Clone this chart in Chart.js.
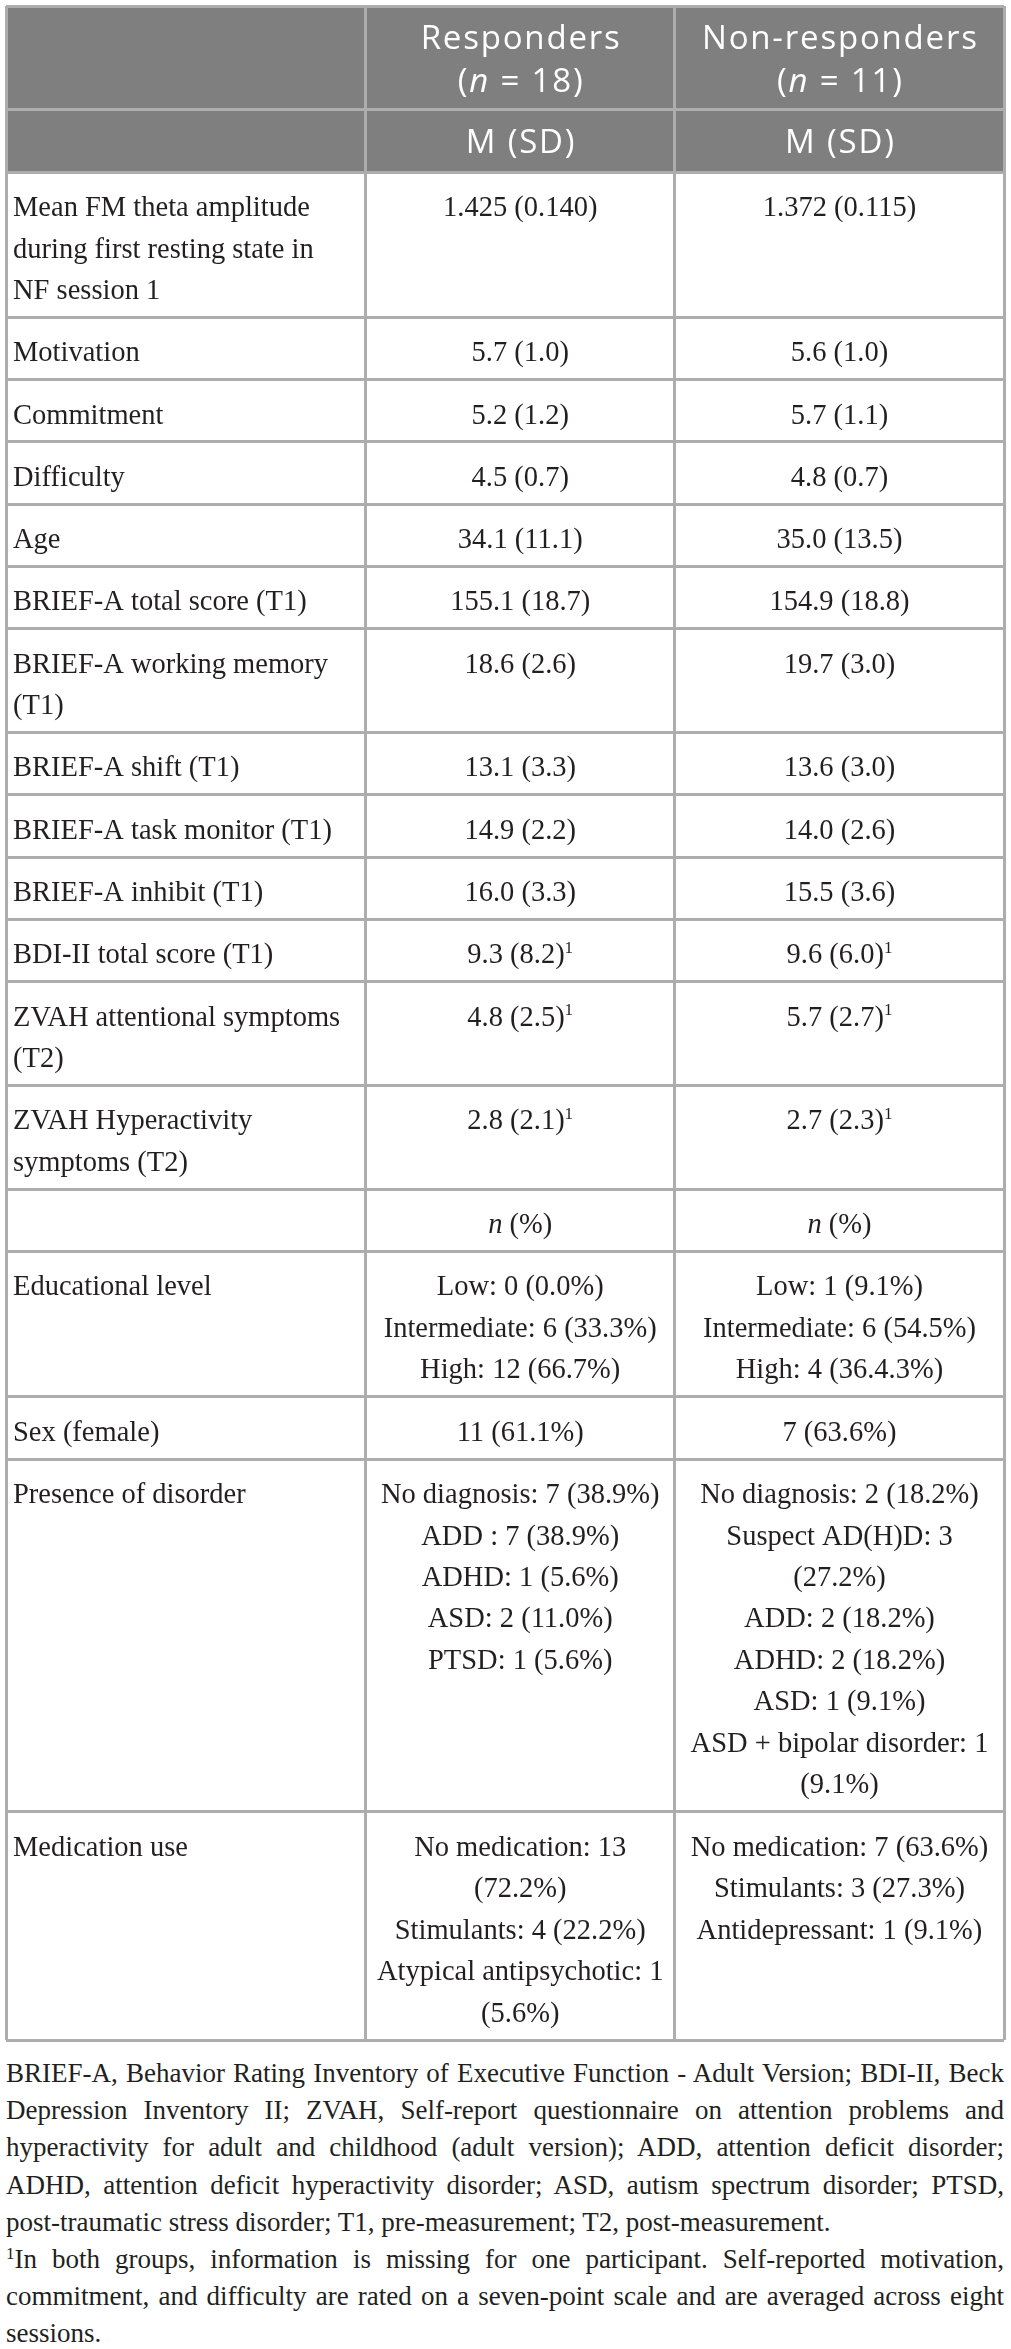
<!DOCTYPE html>
<html>
<head>
<meta charset="utf-8">
<script src="https://cdn.jsdelivr.net/npm/chart.js@4.4.1/dist/chart.umd.min.js"></script>
<style>
html,body{margin:0;padding:0;background:#ffffff;}
#wrap{position:relative;width:1011px;height:2349px;overflow:hidden;}
#tbl{position:absolute;left:0;top:0;}
#notes{position:absolute;left:6px;top:2055px;width:998px;font-family:"Liberation Serif","Times New Roman",serif;font-size:27px;line-height:37.2px;color:#231f20;}
#notes div{white-space:nowrap;}
#notes .j{text-align:justify;text-align-last:justify;}
#notes sup{font-size:17px;line-height:0;vertical-align:9px;}
</style>
</head>
<body>
<div id="wrap">
  <canvas id="tbl" width="1011" height="2046"></canvas>
  <div id="notes">
    <div class="j">BRIEF-A, Behavior Rating Inventory of Executive Function - Adult Version; BDI-II, Beck</div>
    <div class="j">Depression Inventory II; ZVAH, Self-report questionnaire on attention problems and</div>
    <div class="j">hyperactivity for adult and childhood (adult version); ADD, attention deficit disorder;</div>
    <div class="j">ADHD, attention deficit hyperactivity disorder; ASD, autism spectrum disorder; PTSD,</div>
    <div>post-traumatic stress disorder; T1, pre-measurement; T2, post-measurement.</div>
    <div class="j"><sup>1</sup>In both groups, information is missing for one participant. Self-reported motivation,</div>
    <div class="j">commitment, and difficulty are rated on a seven-point scale and are averaged across eight</div>
    <div>sessions.</div>
  </div>
</div>
<script>
// ---------------- DATA ----------------
const groupHeaders = ["Responders\n(*n* = 18)", "Non-responders\n(*n* = 11)"];
const statHeaders = ["M (SD)", "M (SD)"];
const rowLabels = [
  "Mean FM theta amplitude\nduring first resting state in\nNF session 1",
  "Motivation",
  "Commitment",
  "Difficulty",
  "Age",
  "BRIEF-A total score (T1)",
  "BRIEF-A working memory\n(T1)",
  "BRIEF-A shift (T1)",
  "BRIEF-A task monitor (T1)",
  "BRIEF-A inhibit (T1)",
  "BDI-II total score (T1)",
  "ZVAH attentional symptoms\n(T2)",
  "ZVAH Hyperactivity\nsymptoms (T2)",
  "",
  "Educational level",
  "Sex (female)",
  "Presence of disorder",
  "Medication use"
];
const responders = [
  "1.425 (0.140)",
  "5.7 (1.0)",
  "5.2 (1.2)",
  "4.5 (0.7)",
  "34.1 (11.1)",
  "155.1 (18.7)",
  "18.6 (2.6)",
  "13.1 (3.3)",
  "14.9 (2.2)",
  "16.0 (3.3)",
  "9.3 (8.2)^1",
  "4.8 (2.5)^1",
  "2.8 (2.1)^1",
  "*n* (%)",
  "Low: 0 (0.0%)\nIntermediate: 6 (33.3%)\nHigh: 12 (66.7%)",
  "11 (61.1%)",
  "No diagnosis: 7 (38.9%)\nADD : 7 (38.9%)\nADHD: 1 (5.6%)\nASD: 2 (11.0%)\nPTSD: 1 (5.6%)",
  "No medication: 13\n(72.2%)\nStimulants: 4 (22.2%)\nAtypical antipsychotic: 1\n(5.6%)"
];
const nonResponders = [
  "1.372 (0.115)",
  "5.6 (1.0)",
  "5.7 (1.1)",
  "4.8 (0.7)",
  "35.0 (13.5)",
  "154.9 (18.8)",
  "19.7 (3.0)",
  "13.6 (3.0)",
  "14.0 (2.6)",
  "15.5 (3.6)",
  "9.6 (6.0)^1",
  "5.7 (2.7)^1",
  "2.7 (2.3)^1",
  "*n* (%)",
  "Low: 1 (9.1%)\nIntermediate: 6 (54.5%)\nHigh: 4 (36.4.3%)",
  "7 (63.6%)",
  "No diagnosis: 2 (18.2%)\nSuspect AD(H)D: 3\n(27.2%)\nADD: 2 (18.2%)\nADHD: 2 (18.2%)\nASD: 1 (9.1%)\nASD + bipolar disorder: 1\n(9.1%)",
  "No medication: 7 (63.6%)\nStimulants: 3 (27.3%)\nAntidepressant: 1 (9.1%)"
];

// ---------------- LAYOUT / STYLE ----------------
const LINE = 41.5;      // height of one text line (y-scale units)
const PAD = 20.8;       // vertical cell padding total (units)
const PAD_TOP = 10.4;
const HEAD_LINE = 43;   // header text line spacing (units)
const colEdges = [0, 0.3602, 0.6703, 1];
const HEADER_BG = '#7f7f7f';
const GRID = '#adadad';
const BODY_FONT = '"Liberation Serif", "Times New Roman", serif';
const HEAD_FONT = '"Open Sans", "Noto Sans", sans-serif';
const BODY_SIZE = 28.5;
const HEAD_SIZE = 33;
const HEAD_SPACING = 1.8;
const TEXT_COLOR = '#231f20';

// build rows from the data arrays
const rows = [];
rows.push({cells: ["", groupHeaders[0], groupHeaders[1]], header: true});
rows.push({cells: ["", statHeaders[0], statHeaders[1]], header: true});
rowLabels.forEach((l, i) => rows.push({cells: [l, responders[i], nonResponders[i]], header: false}));
let acc = 0;
const rowEdges = [0];
rows.forEach(r => {
  r.lines = Math.max(...r.cells.map(c => c.split("\n").length));
  r.start = acc;
  acc += r.lines * LINE + PAD;
  r.end = acc;
  rowEdges.push(acc);
});
const totalUnits = acc;
const headerEnd = rows[1].end;

// rich text: *italic*, ^superscript
function parseRich(s) {
  const segs = []; const re = /\*([^*]+)\*|\^(\w+)/g; let last = 0, m;
  while ((m = re.exec(s))) {
    if (m.index > last) segs.push({t: s.slice(last, m.index), s: 'n'});
    if (m[1] !== undefined) segs.push({t: m[1], s: 'i'}); else segs.push({t: m[2], s: 'sup'});
    last = re.lastIndex;
  }
  if (last < s.length) segs.push({t: s.slice(last), s: 'n'});
  return segs;
}
function drawRich(ctx, s, x, baseY, align, fam, size, spacing) {
  const segs = parseRich(s);
  const fontOf = st => st === 'i' ? `italic ${size}px ${fam}` : st === 'sup' ? `${(size * 0.6).toFixed(1)}px ${fam}` : `${size}px ${fam}`;
  const hasLS = 'letterSpacing' in ctx;
  let w = 0;
  segs.forEach(g => {
    ctx.font = fontOf(g.s);
    if (hasLS) ctx.letterSpacing = '0px';
    g.w = ctx.measureText(g.t).width + (hasLS ? spacing * g.t.length : 0);
    w += g.w;
  });
  if (hasLS) w -= spacing;
  let cx = align === 'center' ? x - w / 2 : x;
  segs.forEach(g => {
    ctx.font = fontOf(g.s);
    if (hasLS) ctx.letterSpacing = spacing + 'px';
    ctx.fillText(g.t, cx, g.s === 'sup' ? baseY - size * 0.36 : baseY);
    cx += g.w;
  });
  if (hasLS) ctx.letterSpacing = '0px';
}

const tablePlugin = {
  id: 'tableCells',
  beforeDraw(chart) {
    const {ctx, scales: {x, y}} = chart;
    const x0 = x.getPixelForValue(0), x1 = x.getPixelForValue(1);
    const y0 = y.getPixelForValue(0), y1 = y.getPixelForValue(headerEnd);
    ctx.save();
    ctx.fillStyle = '#ffffff';
    ctx.fillRect(x0, y1, x1 - x0, y.getPixelForValue(totalUnits) - y1);
    ctx.fillStyle = HEADER_BG;
    ctx.fillRect(x0, y0, x1 - x0, y1 - y0);
    ctx.restore();
  },
  afterDraw(chart) {
    const {ctx, scales: {x, y}} = chart;
    ctx.save();
    ctx.textAlign = 'left';
    ctx.textBaseline = 'alphabetic';
    const unit = Math.abs(y.getPixelForValue(1) - y.getPixelForValue(0));
    rows.forEach(r => {
      const top = y.getPixelForValue(r.start);
      const bottom = y.getPixelForValue(r.end);
      const fam = r.header ? HEAD_FONT : BODY_FONT;
      const size = r.header ? HEAD_SIZE : BODY_SIZE;
      ctx.fillStyle = r.header ? '#ffffff' : TEXT_COLOR;
      r.cells.forEach((c, ci) => {
        if (!c) return;
        const left = x.getPixelForValue(colEdges[ci]);
        const right = x.getPixelForValue(colEdges[ci + 1]);
        const align = ci === 0 ? 'left' : 'center';
        const px = ci === 0 ? left + 7 : (left + right) / 2;
        const lines = c.split("\n");
        lines.forEach((ln, li) => {
          let base;
          if (r.header) {
            const mid = (top + bottom) / 2 + (li - (lines.length - 1) / 2) * HEAD_LINE * unit;
            base = mid + 0.357 * size + 0.5;
          } else {
            const cy = top + (PAD_TOP + (li + 0.5) * LINE) * unit;
            base = cy + 0.45 * size;
          }
          drawRich(ctx, ln, px, base, align, fam, size, r.header ? HEAD_SPACING : 0);
        });
      });
    });
    ctx.restore();
  }
};

const axisCommon = {
  type: 'linear',
  display: true,
  ticks: {display: false},
  border: {display: false},
  grid: {color: GRID, lineWidth: 3, drawTicks: false}
};

new Chart(document.getElementById('tbl'), {
  type: 'scatter',
  data: {datasets: []},
  options: {
    responsive: false,
    animation: false,
    events: [],
    layout: {padding: {left: 6, right: 7, top: 6, bottom: 6}},
    plugins: {legend: {display: false}, tooltip: {enabled: false}},
    scales: {
      x: Object.assign({}, axisCommon, {
        min: 0, max: 1, position: 'top',
        afterBuildTicks: s => { s.ticks = colEdges.map(v => ({value: v})); }
      }),
      y: Object.assign({}, axisCommon, {
        min: 0, max: totalUnits, reverse: true,
        afterBuildTicks: s => { s.ticks = rowEdges.map(v => ({value: v})); }
      })
    }
  },
  plugins: [tablePlugin]
});

// keep each footnote line within the column width
document.querySelectorAll('#notes div').forEach(d => {
  let ls = 0;
  while (d.scrollWidth > d.clientWidth + 0.5 && ls > -1.5) { ls -= 0.05; d.style.letterSpacing = ls + 'px'; }
});
</script>
</body>
</html>
